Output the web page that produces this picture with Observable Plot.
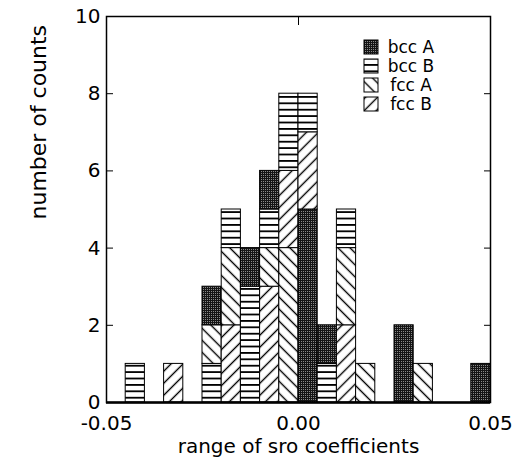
<!DOCTYPE html>
<html>
<head>
<meta charset="utf-8">
<script src="https://cdn.jsdelivr.net/npm/d3@7"></script>
<script src="https://cdn.jsdelivr.net/npm/@observablehq/plot@0.6"></script>
<style>
  html, body { margin: 0; padding: 0; background: white; }
  #chart { position: relative; width: 514px; height: 470px; }
</style>
</head>
<body>
<div id="chart"></div>
<script>
// ---- data ----
const seriesNames = ["bcc A", "bcc B", "fcc A", "fcc B"];
const binWidth = 0.005;
// stacked segments, listed bottom-to-top within each bin
const segBin = [-0.045, -0.035,
  -0.025, -0.025, -0.025,
  -0.020, -0.020, -0.020,
  -0.015, -0.015,
  -0.010, -0.010, -0.010, -0.010,
  -0.005, -0.005, -0.005,
  0.000, 0.000, 0.000,
  0.005, 0.005,
  0.010, 0.010, 0.010,
  0.015, 0.025, 0.030, 0.045];
const segSeries = ["bcc B", "fcc B",
  "bcc B", "fcc A", "bcc A",
  "fcc B", "fcc A", "bcc B",
  "bcc B", "bcc A",
  "fcc B", "fcc A", "bcc B", "bcc A",
  "fcc A", "fcc B", "bcc B",
  "bcc A", "fcc B", "bcc B",
  "bcc B", "bcc A",
  "fcc B", "fcc A", "bcc B",
  "fcc A", "bcc A", "fcc A", "bcc A"];
const segCount = [1, 1,
  1, 1, 1,
  2, 2, 1,
  3, 1,
  3, 1, 1, 1,
  4, 2, 2,
  5, 2, 1,
  1, 1,
  2, 2, 1,
  1, 2, 1, 1];
const xTicks = [-0.05, 0, 0.05];
const yTicks = [0, 2, 4, 6, 8, 10];
const xLabel = "range of sro coefficients";
const yLabel = "number of counts";

const patternIds = ["p-bccA", "p-bccB", "p-fccA", "p-fccB"];
const data = segBin.map((b, i) => ({x0: b, x1: b + binWidth, series: segSeries[i], count: segCount[i]}));

const font = "'DejaVu Sans', Verdana, sans-serif";

const plot = Plot.plot({
  width: 514,
  height: 470,
  marginLeft: 106,
  marginRight: 24,
  marginTop: 16,
  marginBottom: 68,
  style: {fontFamily: font, fontSize: "20px", color: "black", background: "white"},
  x: {domain: [-0.05, 0.05]},
  y: {domain: [0, 10]},
  color: {domain: seriesNames, range: patternIds.map(id => `url(#${id})`)},
  marks: [
    Plot.rectY(data, Plot.stackY({x1: "x0", x2: "x1", y: "count", fill: "series", stroke: "black", strokeWidth: 1})),
    Plot.frame({stroke: "black", strokeWidth: 1.5}),
    Plot.ruleY([0], {stroke: "black", strokeWidth: 2.5}),
    Plot.axisY({ticks: yTicks, tickSize: 0, tickPadding: 6, label: null, fontSize: 20}),
    Plot.axisY({ticks: yTicks, tickSize: -7, tickFormat: () => "", label: null}),
    Plot.axisY({anchor: "right", ticks: yTicks, tickSize: -7, tickFormat: () => "", label: null}),
    Plot.axisX({ticks: xTicks, tickSize: 0, tickPadding: 13, tickFormat: d => d.toFixed(2), label: null, fontSize: 20}),
    Plot.axisX({ticks: xTicks, tickSize: -8, tickFormat: () => "", label: null}),
    Plot.axisX({anchor: "top", ticks: xTicks, tickSize: -8, tickFormat: () => "", label: null}),
    Plot.text([yLabel], {text: d => d, frameAnchor: "left", dx: -68, dy: 10, rotate: -90, fontSize: 22}),
    Plot.text([xLabel], {text: d => d, frameAnchor: "bottom", dy: 50, fontSize: 20, letterSpacing: "0.4px"})
  ]
});

// patterns
const svg = d3.select(plot);
const defs = svg.insert("defs", ":first-child");
const pA = defs.append("pattern").attr("id", "p-bccA").attr("width", 2).attr("height", 2).attr("patternUnits", "userSpaceOnUse");
pA.append("rect").attr("width", 2).attr("height", 2).attr("fill", "#151515");
pA.append("rect").attr("x", 1).attr("y", 1).attr("width", 1).attr("height", 1).attr("fill", "#8a8a8a");
const pB = defs.append("pattern").attr("id", "p-bccB").attr("width", 6).attr("height", 6.4).attr("patternUnits", "userSpaceOnUse");
pB.append("rect").attr("width", 6).attr("height", 6.4).attr("fill", "white");
pB.append("rect").attr("width", 6).attr("height", 1.8).attr("fill", "black");
[["p-fccA", -45], ["p-fccB", 45]].forEach(([id, ang]) => {
  const p = defs.append("pattern").attr("id", id).attr("width", 8.5).attr("height", 8.5)
    .attr("patternUnits", "userSpaceOnUse").attr("patternTransform", `rotate(${ang})`);
  p.append("rect").attr("width", 8.5).attr("height", 8.5).attr("fill", "white");
  p.append("line").attr("x1", 4.25).attr("x2", 4.25).attr("y1", 0).attr("y2", 8.5)
    .attr("stroke", "black").attr("stroke-width", 1.4);
});

// legend (inside plot, top right)
const lg = svg.append("g").attr("font-family", font).attr("font-size", 17);
seriesNames.forEach((name, i) => {
  const cy = 47 + i * 19;
  lg.append("rect").attr("x", 364).attr("y", cy - 7).attr("width", 14).attr("height", 14)
    .attr("fill", `url(#${patternIds[i]})`).attr("stroke", "black").attr("stroke-width", 1);
  lg.append("text").attr("x", 411).attr("y", cy).attr("dy", "0.36em").attr("fill", "black").text(name);
});

document.getElementById("chart").appendChild(plot);
</script>
</body>
</html>
